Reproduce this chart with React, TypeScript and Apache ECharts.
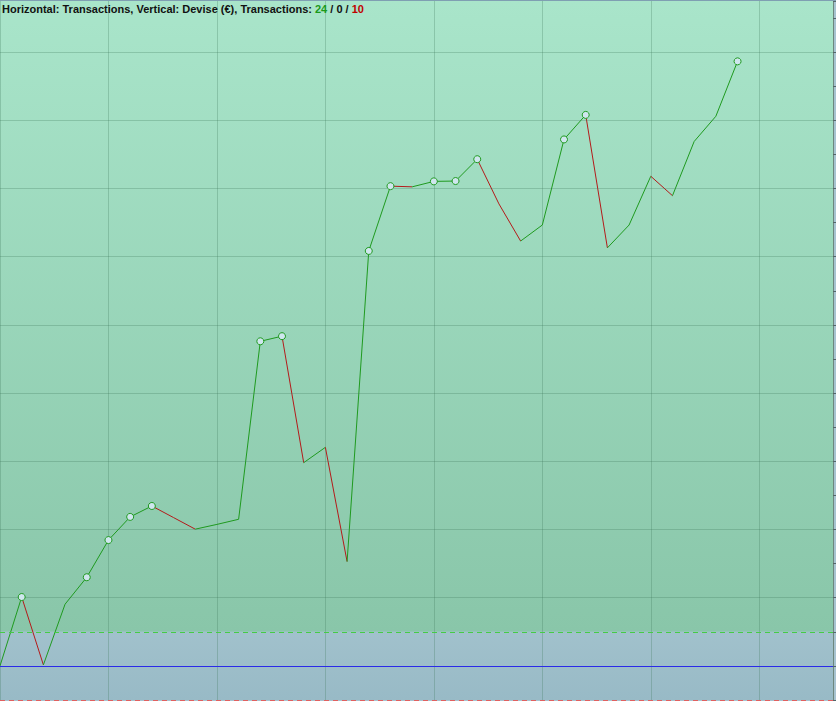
import React, { useEffect, useRef } from "react";
import * as echarts from "echarts";

// Equity curve (Devise €, in axis units) per transaction index
const equity: number[] = [
  0, 2.02, 0.03, 1.81, 2.6, 3.69, 4.37, 4.69, 4.35, 4.01,
  4.15, 4.3, 9.52, 9.67, 5.96, 6.41, 3.06, 12.17, 14.07, 14.05,
  14.21, 14.22, 14.86, 13.55, 12.46, 12.93, 15.44, 16.16, 12.26, 12.93,
  14.36, 13.79, 15.38, 16.12, 17.73,
];
const hGridValues: number[] = [2, 4, 6, 8, 10, 12, 14, 16, 18];
const baseLine = 0;
const upperBand = 1;
const lowerBand = -1;
const yMin = -1;
const yMax = 19.5;
const xMin = 0;
const xMax = 38.4;
const xStep = 5;

const GREEN = "#1f9a1f";
const RED = "#b41a1a";
const FONT = "Liberation Sans, Arial, sans-serif";

export default function App() {
  const ref = useRef<HTMLDivElement>(null);
  useEffect(() => {
    if (!ref.current) return;
    const chart = echarts.init(ref.current, null, { renderer: "svg" });

    const segments: any[] = [];
    let ups = 0, flats = 0, downs = 0;
    for (let i = 0; i < equity.length - 1; i++) {
      const a = equity[i], b = equity[i + 1];
      const up = b > a;
      if (b > a) ups++; else if (b < a) downs++; else flats++;
      segments.push({
        coords: [[i, a], [i + 1, b]],
        lineStyle: { color: up ? GREEN : RED, width: 1, opacity: 1 },
      });
    }
    const peaks: number[][] = [];
    let maxV = equity[0];
    for (let i = 1; i < equity.length; i++) {
      if (equity[i] > maxV) {
        maxV = equity[i];
        peaks.push([i, equity[i]]);
      }
    }

    chart.setOption({
      animation: false,
      backgroundColor: "transparent",
      title: {
        left: 2,
        top: 3,
        padding: 0,
        text:
          "{n|Horizontal: }{b|Transactions}{n|, Vertical: }{b|Devise (€)}{n|, Transactions: }{g|" +
          ups + "}{b| / " + flats + " / }{r|" + downs + "}",
        textStyle: {
          rich: {
            n: { fontFamily: FONT, fontSize: 11, color: "#111" },
            b: { fontFamily: FONT, fontSize: 11, fontWeight: "bold", color: "#111" },
            g: { fontFamily: FONT, fontSize: 11, fontWeight: "bold", color: "#1a9a1a" },
            r: { fontFamily: FONT, fontSize: 11, fontWeight: "bold", color: "#c00000" },
          },
        },
      },
      grid: { left: 0, right: 3, top: 1, bottom: 1, containLabel: false },
      xAxis: {
        type: "value",
        min: xMin,
        max: xMax,
        interval: xStep,
        z: 3,
        axisLine: { show: false },
        axisTick: { show: false },
        axisLabel: { show: false },
        splitLine: { show: true, lineStyle: { color: "rgba(60,120,90,0.28)", width: 1 } },
      },
      yAxis: {
        type: "value",
        position: "right",
        min: yMin,
        max: yMax,
        interval: 1,
        z: 6,
        axisLine: { show: true, onZero: false, lineStyle: { color: "#6d877e", width: 1 } },
        axisTick: { show: true, inside: false, length: 3, lineStyle: { color: "#55666a" } },
        axisLabel: { show: false },
        splitLine: { show: false },
      },
      series: [
        {
          type: "line",
          data: [],
          z: 1,
          silent: true,
          markArea: {
            silent: true,
            data: [
              [
                {
                  yAxis: upperBand,
                  itemStyle: {
                    color: new echarts.graphic.LinearGradient(0, 0, 0, 1, [
                      { offset: 0, color: "#a9e5ca" },
                      { offset: 1, color: "#89c6a9" },
                    ]),
                  },
                },
                { yAxis: yMax },
              ],
              [
                {
                  yAxis: lowerBand,
                  itemStyle: {
                    color: new echarts.graphic.LinearGradient(0, 0, 0, 1, [
                      { offset: 0, color: "#a1c1cc" },
                      { offset: 1, color: "#98bac6" },
                    ]),
                  },
                },
                { yAxis: upperBand },
              ],
            ],
          },
        },
        {
          type: "line",
          data: [],
          z: 3,
          silent: true,
          markLine: {
            silent: true,
            symbol: "none",
            label: { show: false },
            data: [
              ...hGridValues.map((v) => ({
                yAxis: v,
                lineStyle: { color: "rgba(60,120,90,0.28)", width: 1, type: "solid" },
              })),
              { yAxis: upperBand, lineStyle: { color: "#45cc45", width: 1, type: [5, 4] } },
              { yAxis: baseLine, lineStyle: { color: "#2a2ae8", width: 1, type: "solid" } },
              { yAxis: lowerBand, lineStyle: { color: "#e06060", width: 1, type: [5, 4] } },
            ],
          },
        },
        {
          type: "lines",
          coordinateSystem: "cartesian2d",
          polyline: false,
          z: 4,
          silent: true,
          data: segments,
        },
        {
          type: "scatter",
          z: 5,
          silent: true,
          symbol: "circle",
          symbolSize: 7,
          itemStyle: { color: "#cfe6ee", borderColor: GREEN, borderWidth: 1, opacity: 1 },
          data: peaks,
        },
      ],
    });
    return () => chart.dispose();
  }, []);

  return (
    <div
      style={{
        position: "fixed",
        left: 0,
        top: 0,
        width: 836,
        height: 701,
        background: "#a7c3d0",
      }}
    >
      <div
        style={{
          position: "absolute",
          left: 0,
          top: 0,
          width: 836,
          height: 1,
          background: "#7f9fb2",
          zIndex: 2,
        }}
      />
      <div ref={ref} style={{ position: "absolute", left: 0, top: 0, width: 836, height: 701 }} />
    </div>
  );
}
